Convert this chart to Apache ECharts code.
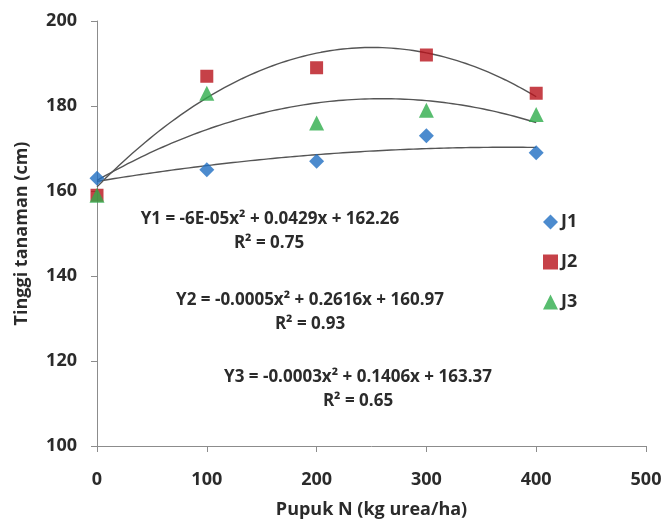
<!DOCTYPE html>
<html>
<head>
<meta charset="utf-8">
<script src="https://cdn.jsdelivr.net/npm/echarts@6/dist/echarts.min.js"></script>
<style>html,body{margin:0;padding:0;background:#fff}#c{width:663px;height:520px}</style>
</head>
<body>
<div id="c"></div>
<script>
const xValues = [0, 100, 200, 300, 400];
const j1 = [163, 165, 167, 173, 169];
const j2 = [159, 187, 189, 192, 183];
const j3 = [159, 183, 176, 179, 178];
const seriesNames = ['J1', 'J2', 'J3'];
const eqTexts = [
  ['Y1 = -6E-05x\u00B2 + 0.0429x + 162.26', 'R\u00B2 = 0.75'],
  ['Y2 = -0.0005x\u00B2 + 0.2616x + 160.97', 'R\u00B2 = 0.93'],
  ['Y3 = -0.0003x\u00B2 + 0.1406x + 163.37', 'R\u00B2 = 0.65']
];

// least-squares quadratic fit (Excel polynomial trendline, order 2)
function quadFit(xs, ys) {
  let S = [0,0,0,0,0], T = [0,0,0];
  for (let i = 0; i < xs.length; i++) {
    const x = xs[i], y = ys[i];
    for (let k = 0; k < 5; k++) S[k] += Math.pow(x, k);
    for (let k = 0; k < 3; k++) T[k] += y * Math.pow(x, k);
  }
  const A = [[S[0],S[1],S[2],T[0]],[S[1],S[2],S[3],T[1]],[S[2],S[3],S[4],T[2]]];
  for (let i = 0; i < 3; i++) {
    for (let j = i + 1; j < 3; j++) {
      const f = A[j][i] / A[i][i];
      for (let k = i; k < 4; k++) A[j][k] -= f * A[i][k];
    }
  }
  const c = [0,0,0];
  for (let i = 2; i >= 0; i--) {
    let s = A[i][3];
    for (let k = i + 1; k < 3; k++) s -= A[i][k] * c[k];
    c[i] = s / A[i][i];
  }
  return c;
}
function trend(ys) {
  const c = quadFit(xValues, ys);
  const pts = [];
  const x0 = xValues[0], x1 = xValues[xValues.length - 1];
  for (let x = x0; x <= x1; x += 4) pts.push([x, c[0] + c[1] * x + c[2] * x * x]);
  return pts;
}
const colors = ['#1F6EC2', '#B8121A', '#2EAD4B'];
const symbols = ['diamond', 'rect', 'triangle'];
const symSizes = [15, 13, 15];
const all = [j1, j2, j3];
const FONT = '"Open Sans"';
const TXT = '#2b2b2b';

const series = [];
all.forEach((ys, i) => {
  series.push({
    type: 'line', name: 'trend' + (i + 1), data: trend(ys), showSymbol: false,
    lineStyle: { color: '#555', width: 1.4 }, z: 1, silent: true
  });
});
all.forEach((ys, i) => {
  series.push({
    type: 'scatter', name: seriesNames[i], symbol: symbols[i], symbolSize: symSizes[i],
    itemStyle: { color: colors[i] }, z: 3,
    data: xValues.map((x, k) => [x, ys[k]])
  });
});

const eqPos = [[270, 219, 269, 243], [310, 300, 310, 324], [358, 377, 358, 401]];
const graphics = [];
eqTexts.forEach((t, i) => {
  const p = eqPos[i];
  graphics.push({ type: 'text', x: p[0], y: p[1], z: 10, style: { text: t[0], font: 'bold 17px ' + FONT, fill: TXT, align: 'center', verticalAlign: 'middle' } });
  graphics.push({ type: 'text', x: p[2], y: p[3], z: 10, style: { text: t[1], font: 'bold 17px ' + FONT, fill: TXT, align: 'center', verticalAlign: 'middle' } });
});

const chart = echarts.init(document.getElementById('c'));
chart.setOption({
  animation: false,
  backgroundColor: '#fff',
  grid: { left: 97, right: 17, top: 21, bottom: 74, outerBoundsMode: 'none', containLabel: false },
  legend: {
    data: seriesNames.map((n, i) => ({ name: n, icon: symbols[i] })),
    orient: 'vertical', left: 538, top: 208, itemGap: 22, itemWidth: 15, itemHeight: 15,
    textStyle: { fontFamily: FONT, fontWeight: 'bold', fontSize: 18, color: TXT, padding: [0, 0, 0, -2] }
  },
  xAxis: {
    type: 'value', min: 0, max: 500, interval: 100,
    name: 'Pupuk N (kg urea/ha)', nameLocation: 'middle', nameGap: 55,
    nameTextStyle: { fontFamily: FONT, fontWeight: 'bold', fontSize: 18, color: TXT },
    axisLine: { show: true, lineStyle: { color: '#8c8c8c', width: 1 } },
    axisTick: { show: true, length: 6, lineStyle: { color: '#8c8c8c' } },
    axisLabel: { margin: 25, fontFamily: FONT, fontWeight: 'bold', fontSize: 18, color: TXT },
    splitLine: { show: false }
  },
  yAxis: {
    type: 'value', min: 100, max: 200, interval: 20,
    name: 'Tinggi tanaman (cm)', nameLocation: 'middle', nameGap: 66,
    nameTextStyle: { fontFamily: FONT, fontWeight: 'bold', fontSize: 18, color: TXT },
    axisLine: { show: true, lineStyle: { color: '#8c8c8c', width: 1 } },
    axisTick: { show: true, length: 6, lineStyle: { color: '#8c8c8c' } },
    axisLabel: { margin: 20, fontFamily: FONT, fontWeight: 'bold', fontSize: 18, color: TXT },
    splitLine: { show: false }
  },
  series: series,
  graphic: graphics
});
</script>
</body>
</html>
